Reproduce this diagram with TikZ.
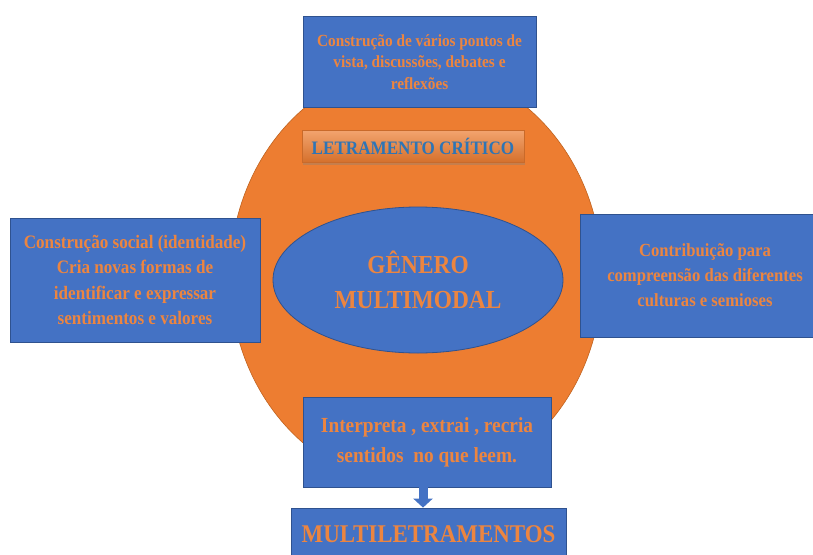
\documentclass[tikz,border=0pt]{standalone}
\usepackage{fontspec}
\setmainfont{Liberation Serif}[FakeStretch=0.9]
\usetikzlibrary{shapes.geometric,arrows.meta,shadows}
\definecolor{boxblue}{HTML}{4472C4}
\definecolor{boxedge}{HTML}{2F528F}
\definecolor{orng}{HTML}{ED7D31}
\definecolor{orngedge}{HTML}{C0631F}
\definecolor{txtorng}{HTML}{EC8540}
\definecolor{txtblue}{HTML}{2E75B6}
\begin{document}
\begin{tikzpicture}[x=1pt,y=-1pt,
  bluebox/.style={draw=boxedge, line width=0.8pt, fill=boxblue, text=txtorng, align=center, inner sep=0pt},
  fs/.style n args={2}{font=\fontsize{#1}{#2}\selectfont\bfseries}]
\useasboundingbox (0,0) rectangle (813,554);
\fill[white] (0,0) rectangle (813,554);
% big orange ellipse
\node[ellipse, draw=orngedge, line width=0.6pt, fill=orng, minimum width=372pt, minimum height=420pt, inner sep=0pt] (disk) at (416,276) {};
% boxes
\node[bluebox, fs={17}{21.5}, minimum width=233pt, minimum height=91pt] (top) at (419.5,62)
  {Construção de vários pontos de\\vista, discussões, debates e\\reflexões};
\node[bluebox, fs={19}{25.5}, minimum width=250pt, minimum height=124pt] (left) at (135,280)
  {Construção social (identidade)\\Cria novas formas de\\identificar e expressar\\sentimentos e valores};
\node[bluebox, fs={18.5}{25}, minimum width=250pt, minimum height=123pt] (right) at (705,275.5)
  {Contribuição para\\compreensão das diferentes\\culturas e semioses};
\node[bluebox, fs={21.5}{30}, minimum width=248pt, minimum height=90pt] (bot) at (427,442)
  {Interpreta , extrai , recria\\sentidos~~no que leem.};
\node[bluebox, fs={25.5}{30}, minimum width=275pt, minimum height=52pt] (multi) at (428.5,534)
  {MULTILETRAMENTOS};
% central ellipse
\node[ellipse, draw=boxedge, line width=0.8pt, fill=boxblue, text=txtorng, align=center, fs={26}{35},
  minimum width=290pt, minimum height=146pt, inner sep=0pt] (gen) at (418,280)
  {GÊNERO\\MULTIMODAL};
% letramento critico
\node[top color=orng!70!white, bottom color=orng!90!black, draw=orng!85!black, line width=0.4pt,
  drop shadow={shadow xshift=1pt, shadow yshift=-2.5pt, opacity=0.35},
  text=txtblue, fs={19}{22}, minimum width=222pt, minimum height=32pt, inner sep=0pt] (crit) at (413,146)
  {LETRAMENTO CRÍTICO};
% arrow
\draw[boxblue, line width=9pt, -{Triangle[width=19pt,length=9pt]}]
  ([xshift=-4pt]bot.south) -- ([xshift=-4pt]bot.south |- multi.north);
\end{tikzpicture}
\end{document}
